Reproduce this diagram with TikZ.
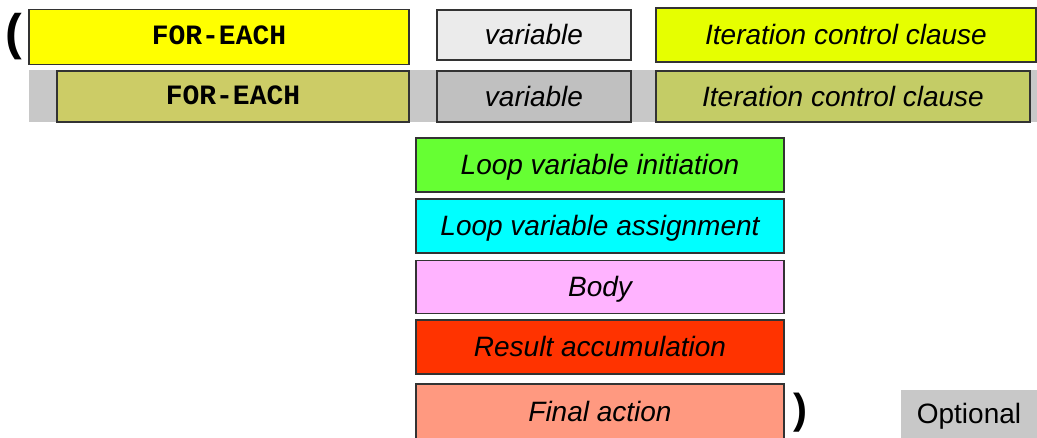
\documentclass[tikz,border=0pt]{standalone}
\usepackage{fontspec}
\setmainfont{Liberation Sans}
\newfontfamily\codefont{Liberation Mono}
\usepackage{tikz}
\usetikzlibrary{positioning}

\definecolor{keyyellow}{HTML}{FFFF00}
\definecolor{keyolive}{HTML}{CCCC66}
\definecolor{varlight}{HTML}{EBEBEB}
\definecolor{vardark}{HTML}{C0C0C0}
\definecolor{iterlime}{HTML}{E6FF00}
\definecolor{iterolive}{HTML}{C4CC66}
\definecolor{bandgray}{HTML}{C8C8C8}
\definecolor{initgreen}{HTML}{66FF33}
\definecolor{assigncyan}{HTML}{00FFFF}
\definecolor{bodypink}{HTML}{FFB3FF}
\definecolor{resultred}{HTML}{FF3300}
\definecolor{finalsalmon}{HTML}{FF9980}

\tikzset{
  cell/.style={draw=black!80, line width=1.2pt, inner sep=0pt,
    text height=20pt, text depth=0pt,
    font=\fontsize{28}{30}\selectfont\itshape},
  keycell/.style={cell, text height=16pt,
    font=\fontsize{28}{30}\selectfont\codefont\bfseries},
  paren/.style={inner sep=0pt, anchor=base, font=\bfseries}
}

\begin{document}
\begin{tikzpicture}[x=1pt,y=-1pt]
\useasboundingbox (0,0) rectangle (1037,438);

    % first form
    \node[paren, font=\fontsize{50}{52}\selectfont\bfseries] (open) at (14,49.5) {(};
    \node[keycell, fill=keyyellow, minimum width=380pt, minimum height=55pt]
        (forEach) at (219,37) {FOR-EACH};
    \node[cell, fill=varlight, minimum width=194pt, minimum height=50pt]
        (var) at (534,35) {variable};
    \node[cell, fill=iterlime, minimum width=380pt, minimum height=54pt]
        (iter) at (846,35) {Iteration control clause};

    % optional repeat of the head
    \fill[bandgray] (29,70) rectangle (1037,122);
    \node[keycell, fill=keyolive, minimum width=352pt, minimum height=51pt]
        (forEachB) at (233,96.5) {FOR-EACH};
    \node[cell, fill=vardark, minimum width=194pt, minimum height=51pt]
        (varB) at (534,96.5) {variable};
    \node[cell, fill=iterolive, minimum width=374pt, minimum height=51pt]
        (iterB) at (843,96.5) {Iteration control clause};

    % loop parts
    \node[cell, fill=initgreen, minimum width=368pt, minimum height=54pt]
        (init) at (600,165) {Loop variable initiation};
    \node[cell, fill=assigncyan, minimum width=368pt, minimum height=54pt]
        (assign) at (600,226) {Loop variable assignment};
    \node[cell, fill=bodypink, minimum width=368pt, minimum height=53pt]
        (body) at (600,287) {Body};
    \node[cell, fill=resultred, minimum width=368pt, minimum height=54pt]
        (result) at (600,347) {Result accumulation};
    \node[cell, fill=finalsalmon, minimum width=368pt, minimum height=56pt]
        (final) at (600,412) {Final action};
    \node[paren, font=\fontsize{42}{44}\selectfont\bfseries] (close) at (800,424) {)};

    % legend
    \node[fill=bandgray, inner sep=0pt, minimum width=136pt, minimum height=48pt,
        text height=20pt, text depth=0pt,
        font=\fontsize{28}{30}\selectfont] (optional) at (969,414) {Optional};

\end{tikzpicture}
\end{document}
